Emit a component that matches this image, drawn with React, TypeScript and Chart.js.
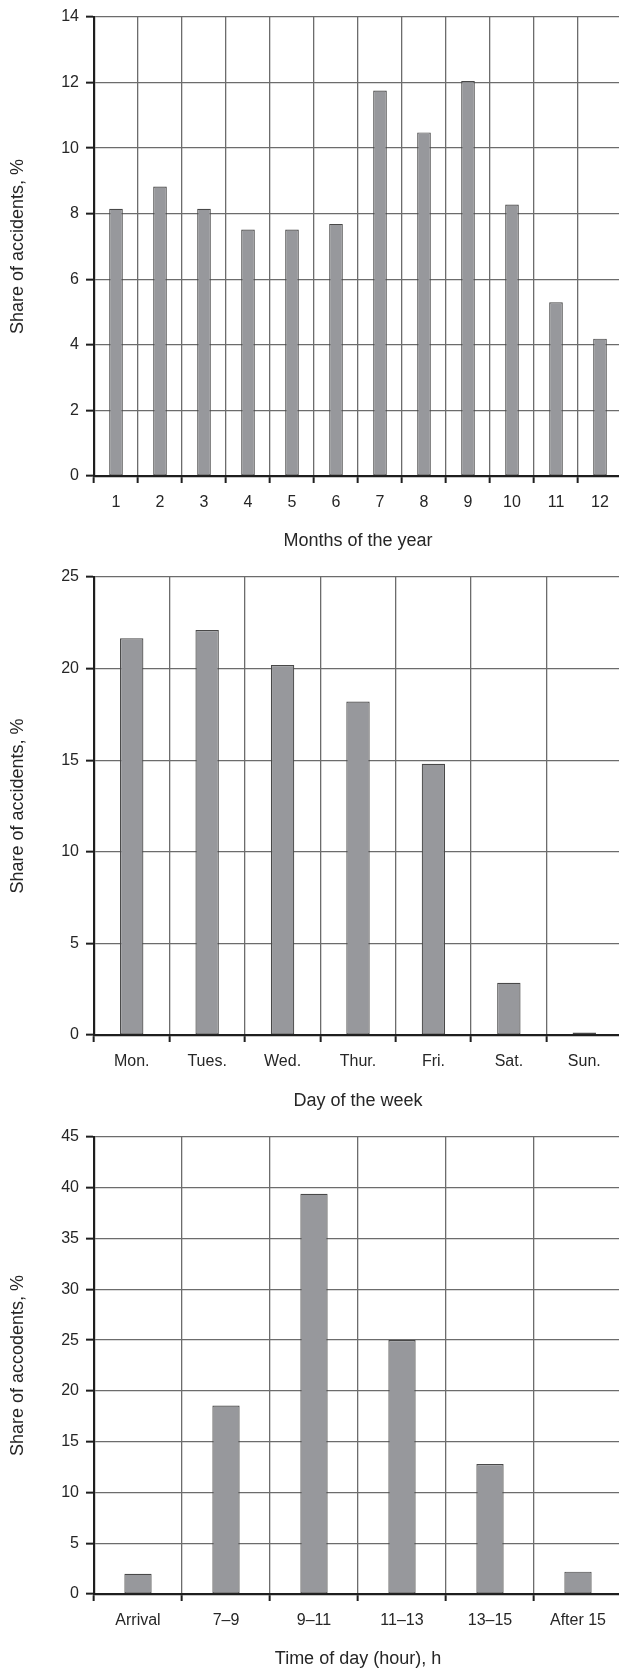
import React, { useEffect, useRef } from "react";
import { Chart, registerables } from "chart.js";

Chart.register(...registerables);

// ---- Data ----
const monthLabels = ["1", "2", "3", "4", "5", "6", "7", "8", "9", "10", "11", "12"];
const monthValues = [8.15, 8.83, 8.15, 7.52, 7.52, 7.69, 11.76, 10.48, 12.05, 8.28, 5.3, 4.19];

const dayLabels = ["Mon.", "Tues.", "Wed.", "Thur.", "Fri.", "Sat.", "Sun."];
const dayValues = [21.66, 22.11, 20.2, 18.2, 14.8, 2.85, 0.13];

const hourLabels = ["Arrival", "7–9", "9–11", "11–13", "13–15", "After 15"];
const hourValues = [2.0, 18.55, 39.4, 25.0, 12.8, 2.2];

const monthAxis = { max: 14, step: 2 };
const dayAxis = { max: 25, step: 5 };
const hourAxis = { max: 45, step: 5 };

const FONT = "'Liberation Sans', Arial, Helvetica, sans-serif";
const TEXT = "#262626";
const AXIS = "#1e1e1e";
const GRID = "#6c6c6c";

type PanelProps = {
  top: number;
  height: number;
  labels: string[];
  values: number[];
  yMax: number;
  yStep: number;
  yTitle: string;
  xTitle: string;
  padTop: number;
  xAxisHeight: number;
  xTitlePadBottom: number;
};

function BarPanel(p: PanelProps) {
  const ref = useRef<HTMLCanvasElement | null>(null);
  useEffect(() => {
    if (!ref.current) return;
    const chart = new Chart(ref.current, {
      type: "bar",
      data: {
        labels: p.labels,
        datasets: [
          {
            data: p.values,
            backgroundColor: "#97989c",
            borderColor: "#484848",
            borderWidth: 1.2,
            borderSkipped: false,
            categoryPercentage: 1,
            barPercentage: 0.31,
          },
        ],
      },
      options: {
        responsive: false,
        animation: false,
        devicePixelRatio: 1,
        layout: { padding: { top: p.padTop, right: 8, left: 0, bottom: 0 } },
        plugins: { legend: { display: false }, tooltip: { enabled: false } },
        scales: {
          x: {
            offset: true,
            grid: {
              offset: true,
              color: GRID,
              lineWidth: 1.3,
              drawTicks: true,
              tickLength: 7,
              tickColor: AXIS,
              tickWidth: 2,
            },
            border: { display: true, color: AXIS, width: 2.2 },
            ticks: {
              color: TEXT,
              font: { family: FONT, size: 16 },
              padding: 10,
              maxRotation: 0,
              autoSkip: false,
            },
            title: {
              display: true,
              text: p.xTitle,
              color: TEXT,
              font: { family: FONT, size: 18 },
              padding: { top: 0, bottom: p.xTitlePadBottom },
            },
            afterFit: (scale: any) => {
              scale.height = p.xAxisHeight;
            },
          },
          y: {
            min: 0,
            max: p.yMax,
            grid: {
              color: GRID,
              lineWidth: 1.3,
              drawTicks: true,
              tickLength: 8,
              tickColor: AXIS,
              tickWidth: 2,
            },
            border: { display: true, color: AXIS, width: 2.2 },
            ticks: {
              stepSize: p.yStep,
              color: TEXT,
              font: { family: FONT, size: 16 },
              padding: 7,
            },
            title: {
              display: true,
              text: p.yTitle,
              color: TEXT,
              font: { family: FONT, size: 18 },
              padding: { top: 7, bottom: 0 },
            },
            afterFit: (scale: any) => {
              scale.width = 94;
            },
          },
        },
      },
    } as any);
    return () => chart.destroy();
  }, []);
  return (
    <canvas
      ref={ref}
      width={630}
      height={p.height}
      style={{ position: "absolute", left: 0, top: p.top, width: 630, height: p.height, display: "block" }}
    />
  );
}

export default function App() {
  return (
    <div
      style={{
        position: "absolute",
        left: 0,
        top: 0,
        width: 619,
        height: 1670,
        overflow: "hidden",
        background: "#ffffff",
      }}
    >
      <BarPanel
        top={0}
        height={560}
        labels={monthLabels}
        values={monthValues}
        yMax={monthAxis.max}
        yStep={monthAxis.step}
        yTitle="Share of accidents, %"
        xTitle="Months of the year"
        padTop={17}
        xAxisHeight={84}
        xTitlePadBottom={8}
      />
      <BarPanel
        top={560}
        height={560}
        labels={dayLabels}
        values={dayValues}
        yMax={dayAxis.max}
        yStep={dayAxis.step}
        yTitle="Share of accidents, %"
        xTitle="Day of the week"
        padTop={17}
        xAxisHeight={85}
        xTitlePadBottom={8}
      />
      <BarPanel
        top={1120}
        height={550}
        labels={hourLabels}
        values={hourValues}
        yMax={hourAxis.max}
        yStep={hourAxis.step}
        yTitle="Share of accodents, %"
        xTitle="Time of day (hour), h"
        padTop={17}
        xAxisHeight={76}
        xTitlePadBottom={0}
      />
    </div>
  );
}
